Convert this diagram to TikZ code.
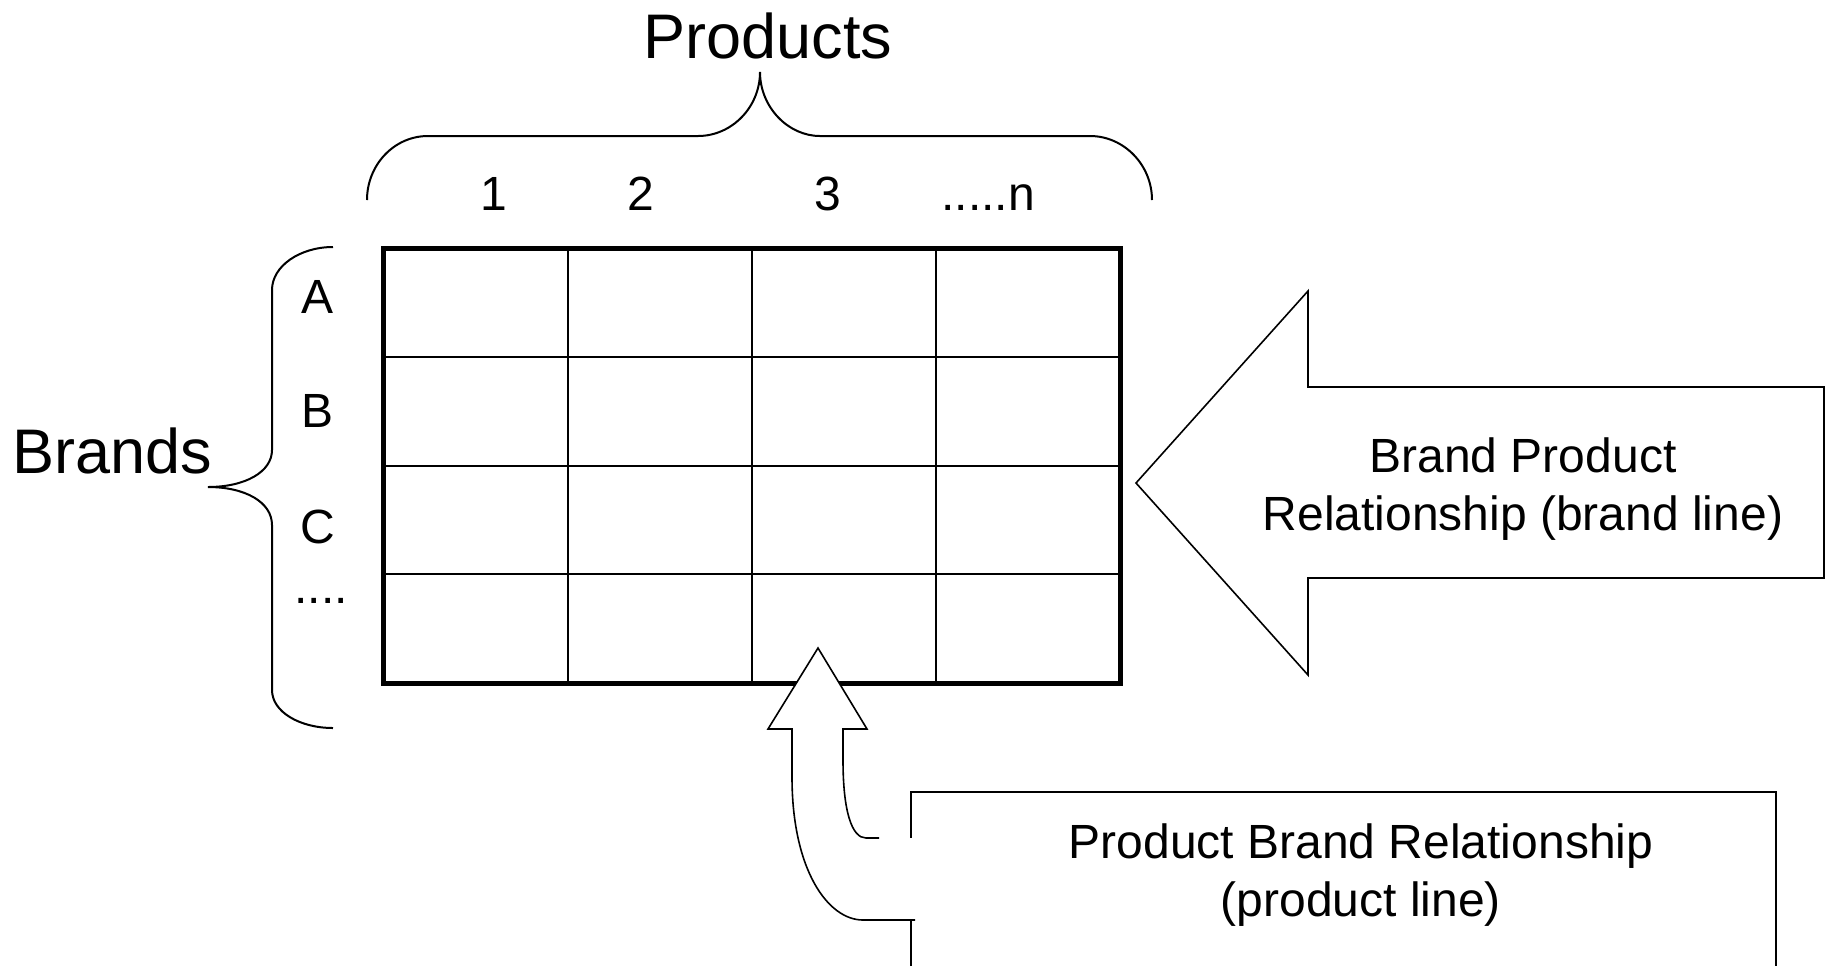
\documentclass[tikz,border=0pt]{standalone}
\usepackage{fontspec}
\setmainfont{Liberation Sans}
\begin{document}
\begin{tikzpicture}[x=0.5pt,y=-0.5pt,
  outerline/.style={line width=2.5pt},
  innerline/.style={line width=1pt},
  bracestyle/.style={line width=1pt},
  arrowline/.style={line width=0.8pt},
  boxline/.style={line width=1.2pt},
  lbl/.style={font=\fontsize{24}{29}\selectfont, inner sep=0pt},
  biglbl/.style={font=\fontsize{31.5}{38}\selectfont, inner sep=0pt}]
\useasboundingbox (0,0) rectangle (1832,966);

% grid
\foreach \x in {568,752,936} \draw[innerline] (\x,248) -- (\x,683);
\foreach \y in {357,466,574} \draw[innerline] (383,\y) -- (1120,\y);
\draw[outerline] (383,248) rectangle (1120,683);

% braces
\draw[bracestyle] (367,200) .. controls (367,165) and (394,136) .. (428,136) -- (698,136)
  .. controls (732,136) and (760,107) .. (760,72)
  .. controls (760,107) and (788,136) .. (820,136) -- (1090,136)
  .. controls (1124,136) and (1152,165) .. (1152,200);
\draw[bracestyle] (333,247) .. controls (300,247) and (272,266) .. (272,290) -- (272,450)
  .. controls (272,472) and (245,487) .. (208,487)
  .. controls (245,487) and (272,502) .. (272,525) -- (272,690)
  .. controls (272,712) and (300,728) .. (333,728);

% big arrow
\draw[arrowline, fill=white] (1136,483) -- (1308,291) -- (1308,387) -- (1824,387)
  -- (1824,578) -- (1308,578) -- (1308,675) -- cycle;

% bottom box
\draw[boxline] (911,966) -- (911,792) -- (1776,792) -- (1776,966);

% curved arrow: white body, then outline
\fill[white] (818,648) -- (867,729) -- (843,729) -- (843,760)
  .. controls (843,812) and (852,838) .. (866,838) -- (916,838) -- (916,920) -- (863,920)
  .. controls (828,920) and (792,870) .. (792,777) -- (792,729) -- (768,729) -- cycle;
\draw[arrowline] (879,838) -- (866,838) .. controls (852,838) and (843,812) .. (843,760)
  -- (843,729) -- (867,729) -- (818,648) -- (768,729) -- (792,729) -- (792,777)
  .. controls (792,870) and (828,920) .. (863,920) -- (915,920);

% labels
\node[biglbl, anchor=base] (products) at (768,58) {Products};
\node[biglbl, anchor=base] (brands) at (112,473) {Brands};
\node[lbl, anchor=base] (c1) at (494,210) {1};
\node[lbl, anchor=base] (c2) at (641,210) {2};
\node[lbl, anchor=base] (c3) at (828,210) {3};
\node[lbl, anchor=base] (cn) at (988,210) {.....n};
\node[lbl, anchor=base] (ra) at (318,313) {A};
\node[lbl, anchor=base] (rb) at (318,427) {B};
\node[lbl, anchor=base] (rc) at (318,543) {C};
\node[lbl, anchor=base] (rd) at (321,603) {....};
\node[lbl, anchor=base, align=center] (bpr) at (1523,530) {Brand Product\\Relationship (brand line)};
\node[lbl, anchor=base, align=center] (pbr) at (1361,916) {Product Brand Relationship\\(product line)};
\end{tikzpicture}
\end{document}
